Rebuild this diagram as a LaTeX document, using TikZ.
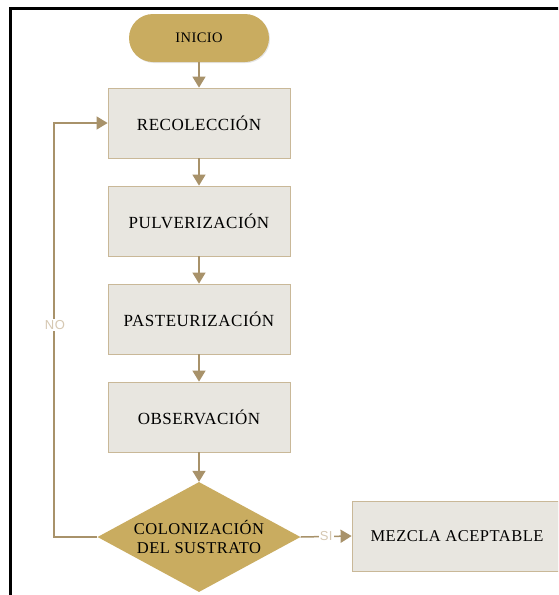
\documentclass[tikz,border=0pt]{standalone}
\usepackage{fontspec}
\setmainfont{Liberation Serif}
\newfontfamily\boxfont[LetterSpace=3]{Liberation Serif}
\newfontfamily\labelfont[LetterSpace=4]{Liberation Sans}
\usepackage{tikz}
\usetikzlibrary{shapes.geometric,arrows.meta,shadows}

\definecolor{oro}{HTML}{C9AC60}
\definecolor{gris}{HTML}{E8E6E0}
\definecolor{borde}{HTML}{C9B898}
\definecolor{flecha}{HTML}{A8926A}
\definecolor{etiq}{HTML}{D6C8B2}

\tikzset{
	paso/.style={draw=borde,fill=gris,line width=0.8pt,minimum width=182pt,minimum height=70pt,
		font=\boxfont\fontsize{17}{19}\selectfont,drop shadow={opacity=0.25,shadow xshift=1.2pt,shadow yshift=-1.2pt}},
	inicio/.style={fill=oro,rounded corners=24pt,minimum width=140pt,minimum height=48pt,
		font=\boxfont\fontsize{14.5}{17}\selectfont,drop shadow={opacity=0.2,shadow xshift=1pt,shadow yshift=-1pt}},
	decision/.style={diamond,fill=oro,inner sep=0pt,minimum width=203pt,minimum height=110pt},
	flujo/.style={flecha,line width=1.5pt,-{Triangle[width=13pt,length=11pt]}},
	resp/.style={fill=white,inner sep=1pt,text=etiq,font=\labelfont\fontsize{13}{15}\selectfont}
}

\begin{document}
\begin{tikzpicture}[x=1pt,y=-1pt]
		% Rahmen und Bildgroesse
		\useasboundingbox (0,0) rectangle (558,595);
		\clip (0,0) rectangle (558,595);
		\fill[white] (0,0) rectangle (558,595);
		\draw[line width=3pt] (10,620) -- (10,8) -- (580,8);
		
		% Ablauf
		\node[inicio] (ini) at (199,38) {INICIO};
		\node[paso] (recol) at (199,123) {RECOLECCIÓN};
		\node[paso] (pulv) at (199,221) {PULVERIZACIÓN};
		\node[paso] (past) at (199,319) {PASTEURIZACIÓN};
		\node[paso] (obs) at (199,417) {OBSERVACIÓN};
		\node[decision] (col) at (199,537) {};
		\node[align=center,font=\boxfont\fontsize{16.5}{19}\selectfont] (coltxt) at (col) {COLONIZACIÓN\\DEL SUSTRATO};
		\node[paso,minimum width=210pt,font=\boxfont\fontsize{16.5}{19}\selectfont] (mezcla) at (457,536) {MEZCLA ACEPTABLE};
		
		% Pfeile
		\draw[flujo] (ini) -- (recol);
		\draw[flujo] (recol) -- (pulv);
		\draw[flujo] (pulv) -- (past);
		\draw[flujo] (past) -- (obs);
		\draw[flujo] (obs) -- (col);
		
		% Rueckfuehrung (NO) und Ausgang (SI)
		\coordinate (nob) at (54,537);
		\coordinate (not) at (54,123);
		\draw[flujo] (col.west) -- (nob) -- (not) -- (recol.west);
		\node[resp] (no) at (55,325) {NO};
		\draw[flujo] (col.east) -- (mezcla.west) node[resp,pos=0.5] (si) {SI};
		
	\end{tikzpicture}
\end{document}
